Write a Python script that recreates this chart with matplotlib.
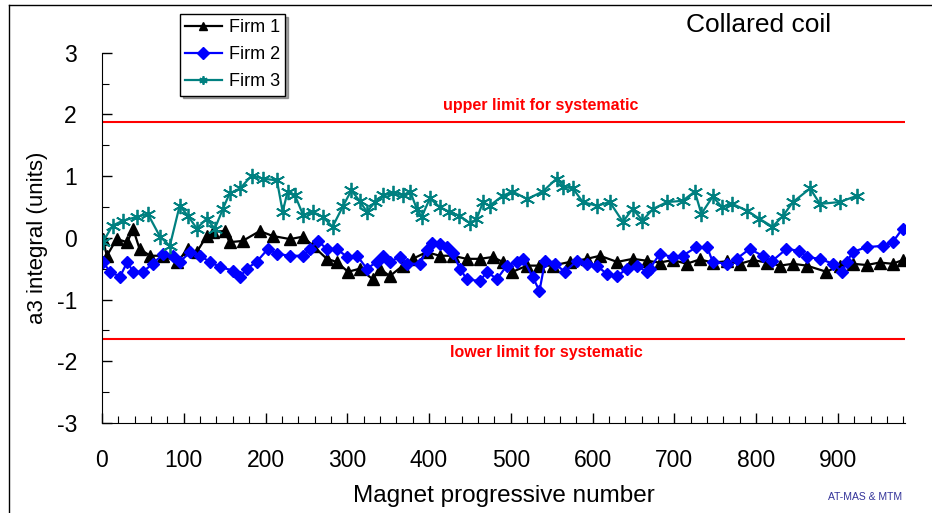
import numpy as np
import matplotlib
matplotlib.use("Agg")
from matplotlib import pyplot as plt
from matplotlib.lines import Line2D

plt.rcParams['font.family'] = ['Liberation Sans', 'DejaVu Sans']
plt.rcParams['axes.unicode_minus'] = False

# Firm 1 (black triangles)
firm1_x = [1, 6, 18, 31, 38, 46, 59, 75, 92, 105, 116, 128, 136, 150, 156, 172, 193, 209, 230, 246,
           258, 275, 287, 301, 315, 331, 340, 352, 368, 380, 397, 413, 429, 446, 462, 478, 490, 502,
           520, 535, 551, 572, 593, 609, 630, 649, 666, 682, 698, 715, 731, 747, 764, 780, 796, 813,
           829, 845, 862, 886, 902, 918, 935, 951, 967, 979]
firm1_y = [-0.02, -0.29, -0.02, -0.07, 0.15, -0.18, -0.29, -0.29, -0.39, -0.18, -0.23, 0.03, 0.10,
           0.11, -0.07, -0.05, 0.11, 0.03, -0.02, 0.02, -0.13, -0.34, -0.39, -0.55, -0.50, -0.67,
           -0.50, -0.62, -0.45, -0.34, -0.23, -0.29, -0.29, -0.34, -0.34, -0.31, -0.39, -0.55,
           -0.45, -0.45, -0.45, -0.39, -0.34, -0.29, -0.39, -0.34, -0.37, -0.40, -0.36, -0.42,
           -0.35, -0.40, -0.38, -0.42, -0.36, -0.40, -0.45, -0.42, -0.45, -0.55, -0.45, -0.42,
           -0.44, -0.40, -0.42, -0.36]

# Firm 2 (blue diamonds)
firm2_x = [1, 10, 22, 31, 38, 50, 62, 75, 87, 95, 108, 120, 132, 144, 160, 169, 177, 189, 203, 214,
           230, 246, 254, 264, 275, 287, 300, 312, 324, 336, 344, 352, 364, 373, 389, 397, 403, 413,
           422, 429, 438, 446, 462, 471, 483, 495, 507, 515, 527, 535, 542, 554, 566, 581, 593, 605,
           617, 630, 642, 654, 666, 670, 682, 698, 710, 727, 740, 747, 764, 776, 792, 808, 820, 837,
           853, 862, 878, 894, 905, 911, 918, 935, 955, 967, 979]
firm2_y = [-0.39, -0.55, -0.63, -0.39, -0.55, -0.55, -0.42, -0.26, -0.29, -0.39, -0.23, -0.29, -0.39,
           -0.47, -0.53, -0.63, -0.50, -0.39, -0.18, -0.26, -0.29, -0.29, -0.18, -0.05, -0.18, -0.18,
           -0.31, -0.29, -0.50, -0.39, -0.29, -0.39, -0.31, -0.42, -0.42, -0.20, -0.08, -0.10, -0.15,
           -0.25, -0.50, -0.67, -0.70, -0.55, -0.67, -0.45, -0.39, -0.34, -0.64, -0.86, -0.37, -0.42,
           -0.55, -0.37, -0.42, -0.45, -0.58, -0.62, -0.50, -0.45, -0.55, -0.50, -0.26, -0.31, -0.29,
           -0.15, -0.15, -0.39, -0.42, -0.34, -0.18, -0.29, -0.37, -0.18, -0.21, -0.31, -0.34, -0.42,
           -0.55, -0.39, -0.23, -0.15, -0.13, -0.07, 0.15]

# Firm 3 (teal stars)
firm3_x = [1, 13, 26, 43, 56, 71, 83, 95, 105, 116, 128, 138, 148, 156, 169, 183, 197, 214, 221, 227,
           236, 246, 258, 270, 282, 295, 305, 315, 324, 334, 344, 356, 368, 377, 385, 391, 401, 413,
           425, 437, 450, 458, 466, 474, 490, 502, 520, 539, 556, 564, 576, 588, 605, 621, 637, 649,
           661, 674, 691, 710, 725, 733, 747, 758, 771, 789, 804, 820, 833, 845, 866, 878, 902, 923]
firm3_y = [-0.07, 0.20, 0.28, 0.34, 0.39, 0.02, -0.13, 0.52, 0.36, 0.15, 0.31, 0.15, 0.47, 0.72, 0.80,
           1.01, 0.96, 0.93, 0.42, 0.75, 0.69, 0.37, 0.42, 0.34, 0.18, 0.52, 0.77, 0.60, 0.42, 0.58,
           0.69, 0.72, 0.69, 0.75, 0.47, 0.34, 0.64, 0.50, 0.42, 0.36, 0.24, 0.30, 0.58, 0.52, 0.68,
           0.75, 0.63, 0.75, 0.96, 0.83, 0.80, 0.58, 0.52, 0.58, 0.26, 0.47, 0.28, 0.47, 0.58, 0.60,
           0.75, 0.39, 0.67, 0.50, 0.55, 0.44, 0.31, 0.18, 0.36, 0.58, 0.80, 0.55, 0.58, 0.68]

upper_limit = 1.87
lower_limit = -1.64
x_max = 982

fig = plt.figure(figsize=(9.32, 5.13), dpi=100)
ax = fig.add_axes([0.1094, 0.1754, 0.8616, 0.7219])

ax.plot(firm1_x, firm1_y, color='black', lw=1.6, marker='^', ms=8.5, label='Firm 1')
ax.plot(firm2_x, firm2_y, color='#0000ff', lw=1.6, marker='D', ms=6.5, label='Firm 2')
ax.plot(firm3_x, firm3_y, color='#008080', lw=1.6, marker=(6, 2, 0), ms=11, mew=1.3, label='Firm 3')

# limits for systematic
ax.plot([0, x_max], [upper_limit, upper_limit], color='red', lw=1.5)
ax.plot([0, x_max], [lower_limit, lower_limit], color='red', lw=1.5)
ax.text(536, upper_limit + 0.15, 'upper limit for systematic', color='red',
        fontsize=11.5, fontweight='bold', ha='center', va='bottom')
ax.text(544, lower_limit - 0.09, 'lower limit for systematic', color='red',
        fontsize=11.5, fontweight='bold', ha='center', va='top')

ax.set_xlim(0, x_max)
ax.set_ylim(-3, 3)
ax.set_xticks(np.arange(0, 901, 100))
ax.set_xticks(np.arange(0, x_max, 20), minor=True)
ax.set_yticks(np.arange(-3, 4, 1))
ax.set_yticks(np.arange(-3, 3.1, 0.5), minor=True)
ax.tick_params(which='both', direction='in', labelsize=16.5)
ax.tick_params(which='major', length=7, width=1)
ax.tick_params(which='minor', length=5, width=0.8)
ax.tick_params(axis='x', pad=19)
ax.tick_params(axis='y', pad=18)
for s in ['top', 'right']:
    ax.spines[s].set_visible(False)

ax.set_xlabel('Magnet progressive number', fontsize=17.5, labelpad=9)
ax.set_ylabel('a3 integral (units)', fontsize=16, labelpad=6)

fig.text(759 / 932, 1 - 25 / 513, 'Collared coil', fontsize=19, ha='center', va='center')
fig.text(865 / 932, 1 - 497 / 513, 'AT-MAS & MTM', fontsize=7.5, color='#333399', ha='center', va='center')

leg = ax.legend(loc='upper left', bbox_to_anchor=(180 / 932, 1 - 14 / 513),
                bbox_transform=fig.transFigure, fancybox=False, shadow=True, framealpha=1,
                edgecolor='black', fontsize=13, handlelength=2, borderpad=0.3,
                labelspacing=0.55, handletextpad=0.4, borderaxespad=0)
leg.get_frame().set_linewidth(1)
for h in leg.legend_handles:
    h.set_markersize(6)

# slide frame on left and top
fig.add_artist(Line2D([9 / 932, 9 / 932], [0, 1 - 5 / 513], color='black', lw=1, transform=fig.transFigure))
fig.add_artist(Line2D([9 / 932, 1], [1 - 5 / 513, 1 - 5 / 513], color='black', lw=1, transform=fig.transFigure))

fig.savefig('out.png', dpi=100)
